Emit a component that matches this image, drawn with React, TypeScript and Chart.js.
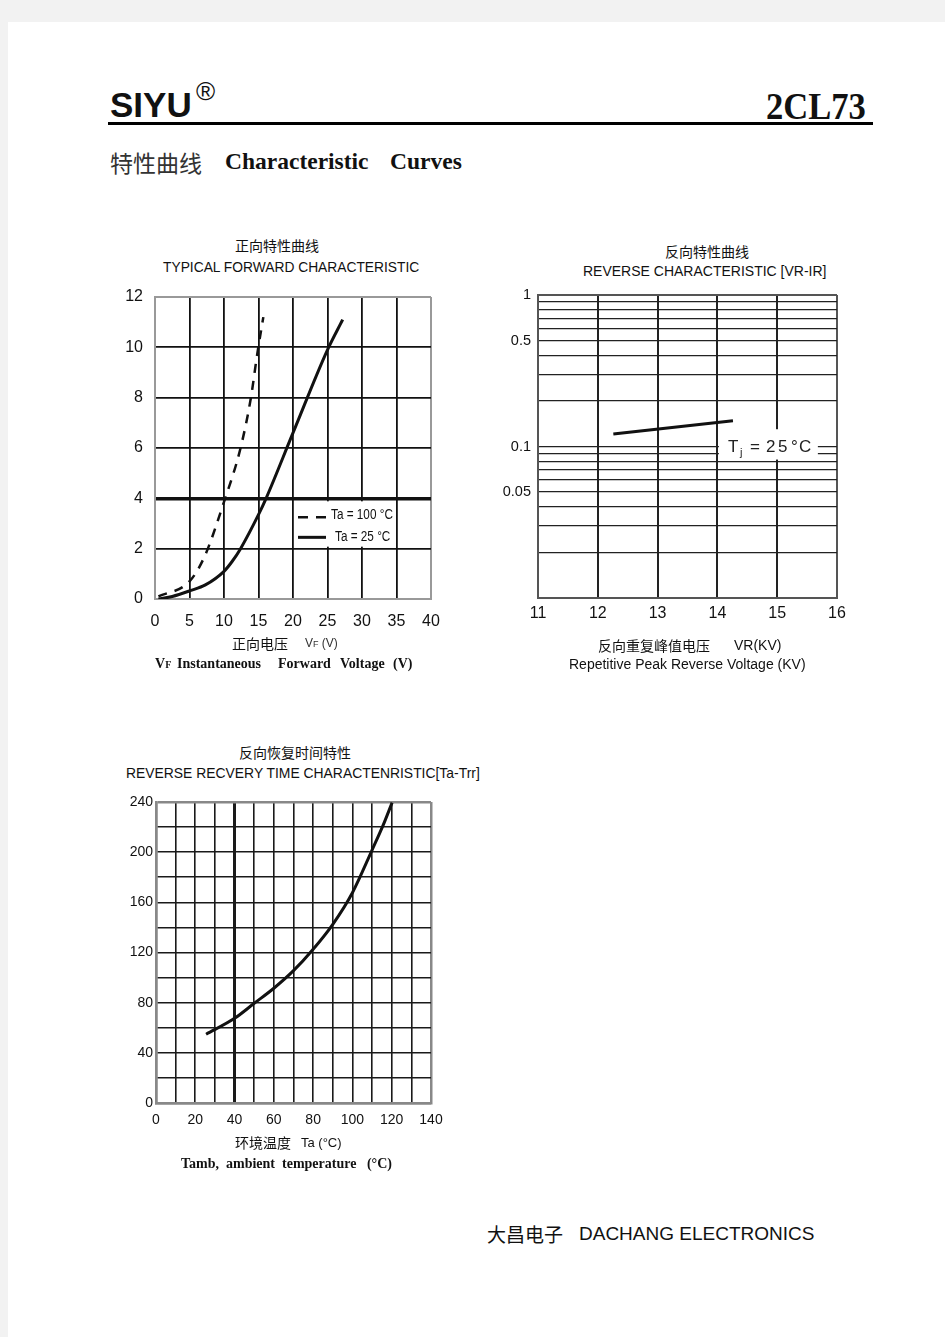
import React, { useEffect, useRef } from 'react';
import { Chart, registerables } from 'chart.js';

Chart.register(...registerables);

const SANS = "'Liberation Sans', Arial, Helvetica, sans-serif";
const SERIF = "'Liberation Serif', 'Times New Roman', serif";
const CJK = "'Noto Sans CJK SC', 'Noto Sans CJK JP', sans-serif";

// ---------- Chart 1: typical forward characteristic ----------
const FWD_X_TICKS = [0, 5, 10, 15, 20, 25, 30, 35, 40];
const FWD_Y_TICKS = [0, 2, 4, 6, 8, 10, 12];
const FWD_SERIES = ['Ta = 100 °C', 'Ta = 25 °C'];
const FWD_100_V = [0.5, 5, 7.2, 10, 12.4, 13.9, 14.8, 15.7];
const FWD_100_I = [0.1, 0.7, 1.7, 3.86, 6, 8, 9.7, 11.2];
const FWD_25_V = [0.5, 2.5, 5.1, 7.3, 10, 11.2, 12.4, 15, 16.1, 20, 25, 27.2];
const FWD_25_I = [0, 0.1, 0.33, 0.56, 1.1, 1.5, 2, 3.35, 4, 6.6, 9.9, 11.1];

// ---------- Chart 2: reverse characteristic ----------
const REV_X_TICKS = [11, 12, 13, 14, 15, 16];
const REV_Y_GRID = [0.01, 0.02, 0.03, 0.04, 0.05, 0.06, 0.07, 0.08, 0.09, 0.1, 0.2, 0.3, 0.4, 0.5, 0.6, 0.7, 0.8, 0.9, 1];
const REV_Y_LABELS = [0.05, 0.1, 0.5, 1];
const REV_VR = [12.26, 14.26];
const REV_IR = [0.121, 0.148];
const REV_NOTE = ['T', 'j', ' = 25°C'];

// ---------- Chart 3: reverse recovery time ----------
const TRR_X_GRID = [0, 10, 20, 30, 40, 50, 60, 70, 80, 90, 100, 110, 120, 130, 140];
const TRR_X_LABELS = [0, 20, 40, 60, 80, 100, 120, 140];
const TRR_Y_GRID = [0, 20, 40, 60, 80, 100, 120, 140, 160, 180, 200, 220, 240];
const TRR_Y_LABELS = [0, 40, 80, 120, 160, 200, 240];
const TRR_TEMP = [25.5, 40, 50, 60, 70, 80, 90, 100, 110, 115.7, 120.2];
const TRR_TIME = [54.8, 67.5, 79.5, 91.5, 105.5, 122.6, 142.5, 167.7, 201.7, 221.7, 239.5];

const PAD = 25;
const zip = (xs: number[], ys: number[]) => xs.map((x, i) => ({ x, y: ys[i] }));
const near = (a: number, b: number) => Math.abs(a - b) < 1e-9;

function makeScale(o: any) {
  const isEdge = (c: any) => c.tick && (near(c.tick.value, o.min) || near(c.tick.value, o.max));
  const isSpecial = (c: any) => o.special !== undefined && c.tick && near(c.tick.value, o.special);
  return {
    type: o.type || 'linear',
    min: o.min,
    max: o.max,
    afterBuildTicks: (s: any) => {
      s.ticks = o.grid.map((v: number) => ({ value: v }));
    },
    afterFit: (s: any) => {
      if (o.isY) s.width = 40;
      else s.height = 30;
    },
    ticks: {
      autoSkip: false,
      maxRotation: 0,
      minRotation: 0,
      padding: o.pad,
      color: '#111',
      font: { family: SANS, size: o.size },
      callback: (v: number) => {
        const m = o.labels.find((l: number) => near(l, v));
        return m === undefined ? '' : String(m);
      },
    },
    grid: {
      drawTicks: false,
      color: (c: any) => (isEdge(c) ? o.edgeColor : o.gridColor),
      lineWidth: (c: any) => (isSpecial(c) ? o.specialWidth : isEdge(c) ? o.edgeWidth : o.gridWidth),
    },
    border: { color: o.edgeColor, width: o.edgeWidth },
  };
}

const baseOptions = (scales: any) => ({
  responsive: false,
  maintainAspectRatio: false,
  animation: false,
  events: [],
  layout: { padding: PAD },
  plugins: { legend: { display: false }, tooltip: { enabled: false }, title: { display: false } },
  elements: { point: { radius: 0 } },
  scales,
});

function squeezedText(ctx: any, text: string, x: number, y: number, sx: number) {
  ctx.save();
  ctx.translate(x, y);
  ctx.scale(sx, 1);
  ctx.fillText(text, 0, 0);
  ctx.restore();
}

const fwdLegendPlugin = {
  id: 'fwdLegend',
  afterDatasetsDraw(chart: any) {
    const { ctx } = chart;
    const xs = chart.scales.x;
    const ys = chart.scales.y;
    const left = xs.getPixelForValue(20) + 2;
    const right = xs.getPixelForValue(35) - 2;
    const top = ys.getPixelForValue(4) + 3;
    const bottom = ys.getPixelForValue(2) - 2;
    ctx.save();
    ctx.fillStyle = '#fff';
    ctx.fillRect(left, top, right - left, bottom - top);
    const lx = left + 3;
    const rows = [top + 16, top + 36];
    ctx.strokeStyle = '#111';
    ctx.lineWidth = 2.5;
    ctx.setLineDash([10, 8]);
    ctx.beginPath();
    ctx.moveTo(lx, rows[0]);
    ctx.lineTo(lx + 28, rows[0]);
    ctx.stroke();
    ctx.setLineDash([]);
    ctx.lineWidth = 3;
    ctx.beginPath();
    ctx.moveTo(lx, rows[1]);
    ctx.lineTo(lx + 28, rows[1]);
    ctx.stroke();
    ctx.fillStyle = '#111';
    ctx.font = `14px ${SANS}`;
    ctx.textBaseline = 'middle';
    ctx.textAlign = 'left';
    squeezedText(ctx, FWD_SERIES[0], lx + 33, rows[0] - 2, 0.84);
    squeezedText(ctx, FWD_SERIES[1], lx + 37, rows[1], 0.84);
    ctx.restore();
  },
};

const revNotePlugin = {
  id: 'revNote',
  afterDatasetsDraw(chart: any) {
    const { ctx } = chart;
    const xs = chart.scales.x;
    const ys = chart.scales.y;
    const left = xs.getPixelForValue(14) + 1.5;
    const right = xs.getPixelForValue(15.68);
    const top = ys.getPixelForValue(0.13);
    const bottom = ys.getPixelForValue(0.082);
    const cy = ys.getPixelForValue(0.0985);
    ctx.save();
    ctx.fillStyle = '#fff';
    ctx.fillRect(left, top, right - left, bottom - top);
    ctx.fillStyle = '#222';
    ctx.textBaseline = 'middle';
    ctx.textAlign = 'left';
    ctx.font = `17px ${SANS}`;
    ctx.fillText(REV_NOTE[0], left + 9, cy);
    ctx.font = `11px ${SANS}`;
    ctx.fillText(REV_NOTE[1], left + 21, cy + 5);
    ctx.font = `17px ${SANS}`;
    const rest = REV_NOTE[2];
    const offs = [0, 31, 0, 47, 59, 72, 80];
    for (let i = 0; i < rest.length; i++) {
      if (rest[i] === ' ') continue;
      ctx.fillText(rest[i], left + offs[i], cy);
    }
    ctx.restore();
  },
};

type Rect = { left: number; top: number; width: number; height: number };

// plot rectangle (page px) -> canvas rectangle
const canvasRect = (L: number, T: number, R: number, B: number): Rect => ({
  left: L - 40 - PAD,
  top: T - PAD,
  width: R + PAD - (L - 40 - PAD),
  height: B + 30 + PAD - (T - PAD),
});

function ChartCanvas({ rect, build }: { rect: Rect; build: () => any }) {
  const ref = useRef<HTMLCanvasElement | null>(null);
  useEffect(() => {
    if (!ref.current) return;
    const chart = new Chart(ref.current, build());
    return () => chart.destroy();
  }, []);
  return (
    <canvas
      ref={ref}
      width={rect.width}
      height={rect.height}
      style={{ position: 'absolute', left: rect.left, top: rect.top, width: rect.width, height: rect.height }}
    />
  );
}

function Txt({ x, cy, size, font = SANS, weight = 400, color = '#111', align = 'left', children, style }: any) {
  const base: any = {
    position: 'absolute',
    top: cy - size / 2,
    fontFamily: font,
    fontSize: size,
    fontWeight: weight,
    lineHeight: `${size}px`,
    color,
    whiteSpace: 'pre',
    margin: 0,
  };
  if (align === 'center') {
    base.left = x - 300;
    base.width = 600;
    base.textAlign = 'center';
  } else {
    base.left = x;
  }
  return <div style={{ ...base, ...style }}>{children}</div>;
}

const buildForward = () => ({
  type: 'line',
  data: {
    datasets: [
      {
        label: FWD_SERIES[0],
        data: zip(FWD_100_V, FWD_100_I),
        borderColor: '#111',
        borderWidth: 2.5,
        borderDash: [9, 8],
        cubicInterpolationMode: 'monotone',
        pointRadius: 0,
        fill: false,
      },
      {
        label: FWD_SERIES[1],
        data: zip(FWD_25_V, FWD_25_I),
        borderColor: '#111',
        borderWidth: 3,
        cubicInterpolationMode: 'monotone',
        pointRadius: 0,
        fill: false,
      },
    ],
  },
  options: baseOptions({
    x: makeScale({
      min: 0, max: 40, grid: FWD_X_TICKS, labels: FWD_X_TICKS, pad: 13, size: 16,
      gridColor: '#111', gridWidth: 1.8, edgeColor: '#999', edgeWidth: 2,
    }),
    y: makeScale({
      isY: true, min: 0, max: 12, grid: FWD_Y_TICKS, labels: FWD_Y_TICKS, pad: 12, size: 16,
      gridColor: '#111', gridWidth: 1.8, edgeColor: '#999', edgeWidth: 2, special: 4, specialWidth: 3.5,
    }),
  }),
  plugins: [fwdLegendPlugin],
});

const buildReverse = () => ({
  type: 'line',
  data: {
    datasets: [
      {
        data: zip(REV_VR, REV_IR),
        borderColor: '#111',
        borderWidth: 3,
        pointRadius: 0,
        fill: false,
      },
    ],
  },
  options: baseOptions({
    x: makeScale({
      min: 11, max: 16, grid: REV_X_TICKS, labels: REV_X_TICKS, pad: 6, size: 16,
      gridColor: '#222', gridWidth: 2, edgeColor: '#555', edgeWidth: 2,
    }),
    y: makeScale({
      type: 'logarithmic', isY: true, min: 0.01, max: 1, grid: REV_Y_GRID, labels: REV_Y_LABELS, pad: 7, size: 14.5,
      gridColor: '#222', gridWidth: 1.3, edgeColor: '#555', edgeWidth: 2,
    }),
  }),
  plugins: [revNotePlugin],
});

const buildRecovery = () => ({
  type: 'line',
  data: {
    datasets: [
      {
        data: zip(TRR_TEMP, TRR_TIME),
        borderColor: '#111',
        borderWidth: 3,
        cubicInterpolationMode: 'monotone',
        pointRadius: 0,
        fill: false,
      },
    ],
  },
  options: baseOptions({
    x: makeScale({
      min: 0, max: 140, grid: TRR_X_GRID, labels: TRR_X_LABELS, pad: 9, size: 14,
      gridColor: '#1a1a1a', gridWidth: 1.6, edgeColor: '#888', edgeWidth: 2.5, special: 40, specialWidth: 3,
    }),
    y: makeScale({
      isY: true, min: 0, max: 240, grid: TRR_Y_GRID, labels: TRR_Y_LABELS, pad: 3, size: 14,
      gridColor: '#1a1a1a', gridWidth: 1.6, edgeColor: '#888', edgeWidth: 2.5,
    }),
  }),
});

export default function App() {
  return (
    <div style={{ position: 'fixed', left: 0, top: 0, right: 0, bottom: 0, background: '#f2f2f2', overflow: 'hidden' }}>
      <div style={{ position: 'absolute', left: 8, top: 22, right: 0, bottom: 0, background: '#fff' }} />

      {/* Header */}
      <Txt x={110} cy={104} size={35} weight={700}>SIYU</Txt>
      <Txt x={196} cy={91} size={26}>®</Txt>
      <Txt x={766} cy={106} size={38} font={SERIF} weight={700} style={{ transform: 'scaleX(0.91)', transformOrigin: 'left center' }}>
        2CL73
      </Txt>
      <div style={{ position: 'absolute', left: 108, top: 121.5, width: 765, height: 3, background: '#000' }} />
      <Txt x={110} cy={162} size={23} font={CJK} color="#333">特性曲线</Txt>
      <Txt x={225} cy={162} size={23.5} font={SERIF} weight={700}>Characteristic</Txt>
      <Txt x={390} cy={162} size={23.5} font={SERIF} weight={700}>Curves</Txt>

      {/* Chart 1 */}
      <Txt x={277} cy={245} size={14} font={CJK} align="center">正向特性曲线</Txt>
      <Txt x={163} cy={268} size={13.8}>TYPICAL FORWARD CHARACTERISTIC</Txt>
      <ChartCanvas rect={canvasRect(155, 297, 431, 599)} build={buildForward} />
      <Txt x={232} cy={643} size={14} font={CJK}>正向电压</Txt>
      <Txt x={305} cy={643} size={12} color="#333">V<span style={{ fontSize: 9 }}>F</span> (V)</Txt>
      <Txt x={155} cy={664} size={14} font={SERIF} weight={700}>V<span style={{ fontSize: 10 }}>F</span></Txt>
      <Txt x={177} cy={664} size={14} font={SERIF} weight={700}>Instantaneous</Txt>
      <Txt x={278} cy={664} size={14} font={SERIF} weight={700}>Forward</Txt>
      <Txt x={340} cy={664} size={14} font={SERIF} weight={700}>Voltage</Txt>
      <Txt x={393} cy={664} size={14} font={SERIF} weight={700}>(V)</Txt>

      {/* Chart 2 */}
      <Txt x={707} cy={251} size={14} font={CJK} align="center">反向特性曲线</Txt>
      <Txt x={583} cy={271} size={14}>REVERSE CHARACTERISTIC [VR-IR]</Txt>
      <ChartCanvas rect={canvasRect(538, 295, 837, 598)} build={buildReverse} />
      <Txt x={598} cy={645} size={14} font={CJK}>反向重复峰值电压</Txt>
      <Txt x={734} cy={645} size={14}>VR(KV)</Txt>
      <Txt x={569} cy={664} size={14}>Repetitive Peak Reverse Voltage (KV)</Txt>

      {/* Chart 3 */}
      <Txt x={239} cy={752} size={14} font={CJK}>反向恢复时间特性</Txt>
      <Txt x={126} cy={774} size={13.9}>REVERSE RECVERY TIME CHARACTENRISTIC[Ta-Trr]</Txt>
      <ChartCanvas rect={canvasRect(156, 802, 431, 1103)} build={buildRecovery} />
      <Txt x={235} cy={1142} size={14} font={CJK}>环境温度</Txt>
      <Txt x={301} cy={1142} size={13}>Ta (°C)</Txt>
      <Txt x={181} cy={1164} size={14} font={SERIF} weight={700}>Tamb,  ambient  temperature   (°C)</Txt>

      {/* Footer */}
      <Txt x={487} cy={1233} size={19} font={CJK}>大昌电子</Txt>
      <Txt x={579} cy={1233} size={19}>DACHANG ELECTRONICS</Txt>
    </div>
  );
}
